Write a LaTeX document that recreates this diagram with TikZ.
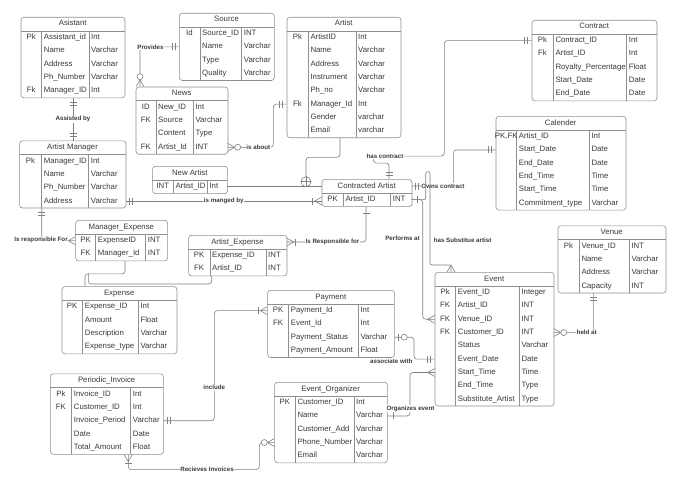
\documentclass[tikz,border=0pt]{standalone}
\usepackage{fontspec}
\setmainfont{Liberation Sans}
\usetikzlibrary{decorations.markings}

\definecolor{erborder}{HTML}{8F8F8F}
\definecolor{ertext}{HTML}{3A3A3A}
\definecolor{erlinec}{HTML}{808080}

% ends of the connectors, drawn along the path direction
\newcommand{\erbar}[1]{\draw[erlinec, line width=0.6pt, sharp corners] (-#1,-3.5) -- (-#1,3.5);}
\newcommand{\ercirc}[1]{\draw[erlinec, line width=0.6pt, fill=white] (-#1,0) circle (3);}
\newcommand{\erone}{\erbar{6}}
\newcommand{\eronly}{\erbar{4}\erbar{7}}
\newcommand{\ermany}{\draw[erlinec, line width=0.6pt, sharp corners] (0,4) -- (-7,0) -- (0,-4);}
\newcommand{\eronemany}{\ermany\erbar{9}}
\newcommand{\erzeromany}{\ermany\ercirc{10}}
\newcommand{\erzeroone}{\erbar{4}\ercirc{10}}

\tikzset{
  erframe/.style={draw=erborder, rounded corners=3pt, line width=0.6pt, inner sep=0pt, fill=white},
  ertitle/.style={text=ertext, font=\fontsize{7.8}{9}\selectfont, inner sep=0pt, text height=5.6pt, text depth=1.6pt},
  erfield/.style={ertitle, anchor=west},
  erline/.style={draw=erlinec, line width=0.6pt, rounded corners=3pt},
  erlabel/.style={font=\fontsize{6.2}{7}\selectfont\bfseries, text=ertext, fill=white, inner sep=0.6pt},
  erend/.style={postaction={decorate, decoration={markings, mark=at position 1 with {#1}}}},
  erstart/.style={postaction={decorate, decoration={markings, mark=at position 0 with {\begin{scope}[xscale=-1]#1\end{scope}}}}},
}

% #1 name, #2 left, #3 top, #4/#5/#6 column widths, #7 rows, #8 title, #9 rows key/field/type
\newcommand{\ertable}[9]{%
  \pgfmathsetmacro{\erw}{#4+#5+#6}%
  \pgfmathsetmacro{\erh}{14+13.3*#7}%
  \node[erframe, anchor=north west, minimum width=\erw pt, minimum height=\erh pt] (#1) at (#2,#3) {};
  \node[ertitle] (#1-title) at ({#2+\erw/2},{#3+7}) {#8};
  \draw[draw=erborder, line width=0.6pt] ({#2},{#3+14}) -- ++(\erw,0);
  \draw[draw=erborder, line width=0.6pt] ({#2+#4},{#3+14}) -- ++(0,{13.3*#7});
  \draw[draw=erborder, line width=0.6pt] ({#2+#4+#5},{#3+14}) -- ++(0,{13.3*#7});
  \coordinate (#1-w0) at ({#2},{#3+7});
  \coordinate (#1-e0) at ({#2+\erw},{#3+7});
  \foreach \ekey/\efield/\etype [count=\i] in {#9} {
    \pgfmathsetmacro{\ry}{#3+7.35+13.3*\i}
    \node[ertitle] (#1-k\i) at ({#2+#4/2},\ry) {\ekey};
    \node[erfield] (#1-f\i) at ({#2+#4+2},\ry) {\efield};
    \node[erfield] (#1-t\i) at ({#2+#4+#5+2},\ry) {\etype};
    \coordinate (#1-w\i) at ({#2},\ry);
    \coordinate (#1-e\i) at ({#2+\erw},\ry);
  }
}

\begin{document}
\begin{tikzpicture}[x=1pt, y=-1pt]
  \useasboundingbox[fill=white] (0,0) rectangle (680,487);

  \ertable{asistant}{20.7}{17}{21}{47.3}{35.7}{5}{Asistant}{Pk/Assistant\_id/Int, /Name/Varchar, /Address/Varchar, /Ph\_Number/Varchar, Fk/Manager\_ID/Int}
  \ertable{source}{179}{13}{21}{41.7}{32.3}{4}{Source}{Id/Source\_ID/INT, /Name/Varchar, /Type/Varchar, /Quality/Varchar}
  \ertable{artist}{286.7}{17}{21.6}{47.7}{44.7}{8}{Artist}{Pk/ArtistID/Int, /Name/Varchar, /Address/Varchar, /Instrument/Varchar, /Ph\_no/Varchar, Fk/Manager\_Id/Int, /Gender/varchar, /Email/varchar}
  \ertable{news}{135.7}{86.7}{20.3}{37.3}{34.4}{4}{News}{ID/New\_ID/Int, FK/Source/Varchar, /Content/Type, FK/Artist\_Id/INT}
  \ertable{newartist}{152.3}{166}{21}{34}{20}{1}{New Artist}{INT/Artist\_ID/Int}
  \ertable{contracted}{321.7}{179}{21.6}{47.4}{21}{1}{Contracted Artist}{PK/Artist\_ID/INT}
  \ertable{contract}{531.7}{20}{21.6}{73.4}{30}{5}{Contract}{Pk/Contract\_ID/Int, Fk/Artist\_ID/Int, /Royalty\_Percentage/Float, /Start\_Date/Date, /End\_Date/Date}
  \ertable{calender}{495.7}{116}{21}{72.6}{36.4}{6}{Calender}{{PK,FK}/Artist\_ID/Int, /Start\_Date/Date, /End\_Date/Date, /End\_Time/Time, /Start\_Time/Time, /Commitment\_type/Varchar}
  \ertable{venue}{557.7}{225.5}{21.6}{50}{36.4}{4}{Venue}{Pk/Venue\_ID/INT, /Name/Varchar, /Address/Varchar, /Capacity/INT}
  \ertable{event}{434.7}{272}{21}{63.6}{34.4}{9}{Event}{Pk/Event\_ID/Integer, FK/Artist\_ID/INT, FK/Venue\_ID/INT, FK/Customer\_ID/INT, /Status/Varchar, /Event\_Date/Date, /Start\_Time/Time, /End\_Time/Type, /Substitute\_Artist/Type}
  \ertable{payment}{267.3}{290}{21.4}{69.6}{36}{4}{Payment}{PK/Payment\_Id/Int, FK/Event\_Id/Int, /Payment\_Status/Varchar, /Payment\_Amount/Float}
  \ertable{organizer}{274.3}{382}{21}{58.7}{33}{5}{Event\_Organizer}{PK/Customer\_ID/Int, /Name/Varchar, /Customer\_Add/Varchar, /Phone\_Number/Varchar, /Email/Varchar}
  \ertable{invoice}{50}{373.5}{21.7}{59}{32.6}{5}{Periodic\_Invoice}{Pk/Invoice\_ID/Int, FK/Customer\_ID/Int, /Invoice\_Period/Varchar, /Date/Date, /Total\_Amount/Float}
  \ertable{expense}{61.7}{286.3}{21}{55.6}{38.4}{4}{Expense}{PK/Expense\_ID/Int, /Amount/Float, /Description/Varchar, /Expense\_type/Varchar}
  \ertable{manager}{19.3}{140.5}{22.4}{47}{37}{4}{Artist Manager}{Pk/Manager\_ID/Int, /Name/Varchar, /Ph\_Number/Varchar, /Address/Varchar}
  \ertable{mgrexp}{75.3}{220}{20.4}{50}{21.6}{2}{Manager\_Expense}{PK/ExpenseID/INT, FK/Manager\_Id/INT}
  \ertable{artexp}{188.3}{235}{21.7}{56}{20.7}{2}{Artist\_Expense}{PK/Expense\_ID/INT, FK/Artist\_ID/INT}

  % relationships
  \draw[erline, erstart=\eronly, erend=\eronly] (asistant.south) -- (asistant.south |- manager.north) node[erlabel, midway] (lassist) {Assisted by};
  \draw[erline, erstart=\eronly, erend=\erzeromany] (source-w2) -| ([xshift=4.3pt]news.north west);
  \node[erlabel] (lprovides) at (150.5,47) {Provides};
  \draw[erline, erstart=\erzeromany, erend=\eronly] (news-e4) -- ++(45.6,0) |- (artist-w6);
  \node[erlabel] (labout) at (258.3,147.2) {is about};

  \node[draw=erlinec, line width=0.6pt, circle, minimum size=10pt, inner sep=0pt, fill=white] (isa) at (306,181.7) {};
  \draw[erline] (isa.north) -- (isa.south) (isa.west) -- (isa.east);
  \draw[erline] ([xshift=-4pt]artist.south) -- ++(0,19.3) -| (isa.north);
  \draw[erline] (newartist-e1) -- (newartist-e1 -| contracted.west);

  \draw[erline, erstart=\eronly, erend=\eronly] (contract-w1) -| ++(-87.4,115.4) -- ++(-71,0) -- ++(0,7) -| ([xshift=22pt]contracted.north);
  \node[erlabel] (lhascontract) at (385,156) {has contract};
  \draw[erline, erstart=\eronly, erend=\eronly] (contracted-e0) -- ++(41.6,0) |- (calender-w2);
  \node[erlabel] (lowns) at (443,186) {Owns contract};
  \draw[erline, erstart=\erone, erend=\ermany] (contracted-e1) -- ++(11,0) |- (event-w3);
  \node[erlabel] (lperforms) at (402.5,238.3) {Performs at};
  \draw[erline, rounded corners=2pt, erend=\ermany] (contracted-e1) -- ++(14,0) -- ++(0,-28) -- ++(4.3,0) -- ++(0,93.3) -| ([xshift=16.3pt]event.north west);
  \node[erlabel, anchor=west] (lsubst) at (433,240.3) {has Substitue artist};

  \draw[erline, erstart=\eronly, erend=\eronemany] (manager-e4) -- (manager-e4 -| contracted.west) node[erlabel, midway] (lmanaged) {is manged by};
  \draw[erline, erstart=\eronly, erend=\ermany] ([xshift=22.4pt]manager.south west) |- (mgrexp-w1);
  \node[erlabel] (lresp) at (41,240) {Is responsible For};
  \draw[erline] ([xshift=49.7pt]mgrexp.south west) -- ++(0,12.7) -| ([xshift=23.3pt]expense.north west);
  \draw[erline] ([xshift=23.4pt]artexp.south west) |- ([xshift=26.6pt,yshift=2.3pt]expense.north west) -- ++(0,-10.7);
  \draw[erline, erstart=\erone, erend=\eronemany] ([xshift=-1pt]contracted.south) |- (artexp-e0);
  \node[erlabel] (lrespfor) at (332.5,242) {Is Responsible for};

  \draw[erline, erstart=\eronly, erend=\eronemany] (invoice-e3) -- ++(51,0) |- (payment-w1);
  \node[erlabel] (linclude) at (214.3,387.7) {include};
  \draw[erline, erstart=\eronemany, erend=\erzeromany] ([xshift=78.3pt]invoice.south west) -- ++(0,15) -- ++(131,0) |- (organizer-w4);
  \node[erlabel] (lreceives) at (207,469) {Recieves Invoices};
  \draw[erline, erstart=\erzeroone, erend=\eronly] (payment-e3) -- ++(19.7,0) |- (event-w6);
  \node[erlabel, anchor=east] (lassoc) at (413.3,361) {associate with};
  \draw[erline, erstart=\erone, erend=\ermany] (organizer-e2) -- ++(23,0) |- (event-w7);
  \node[erlabel] (lorganizes) at (410.5,408.5) {Organizes event};
  \draw[erline, erstart=\erzeromany, erend=\eronly] (event-e4) -| ([xshift=35.6pt]venue.south west);
  \node[erlabel] (lheld) at (586.7,332.6) {held at};
\end{tikzpicture}
\end{document}
